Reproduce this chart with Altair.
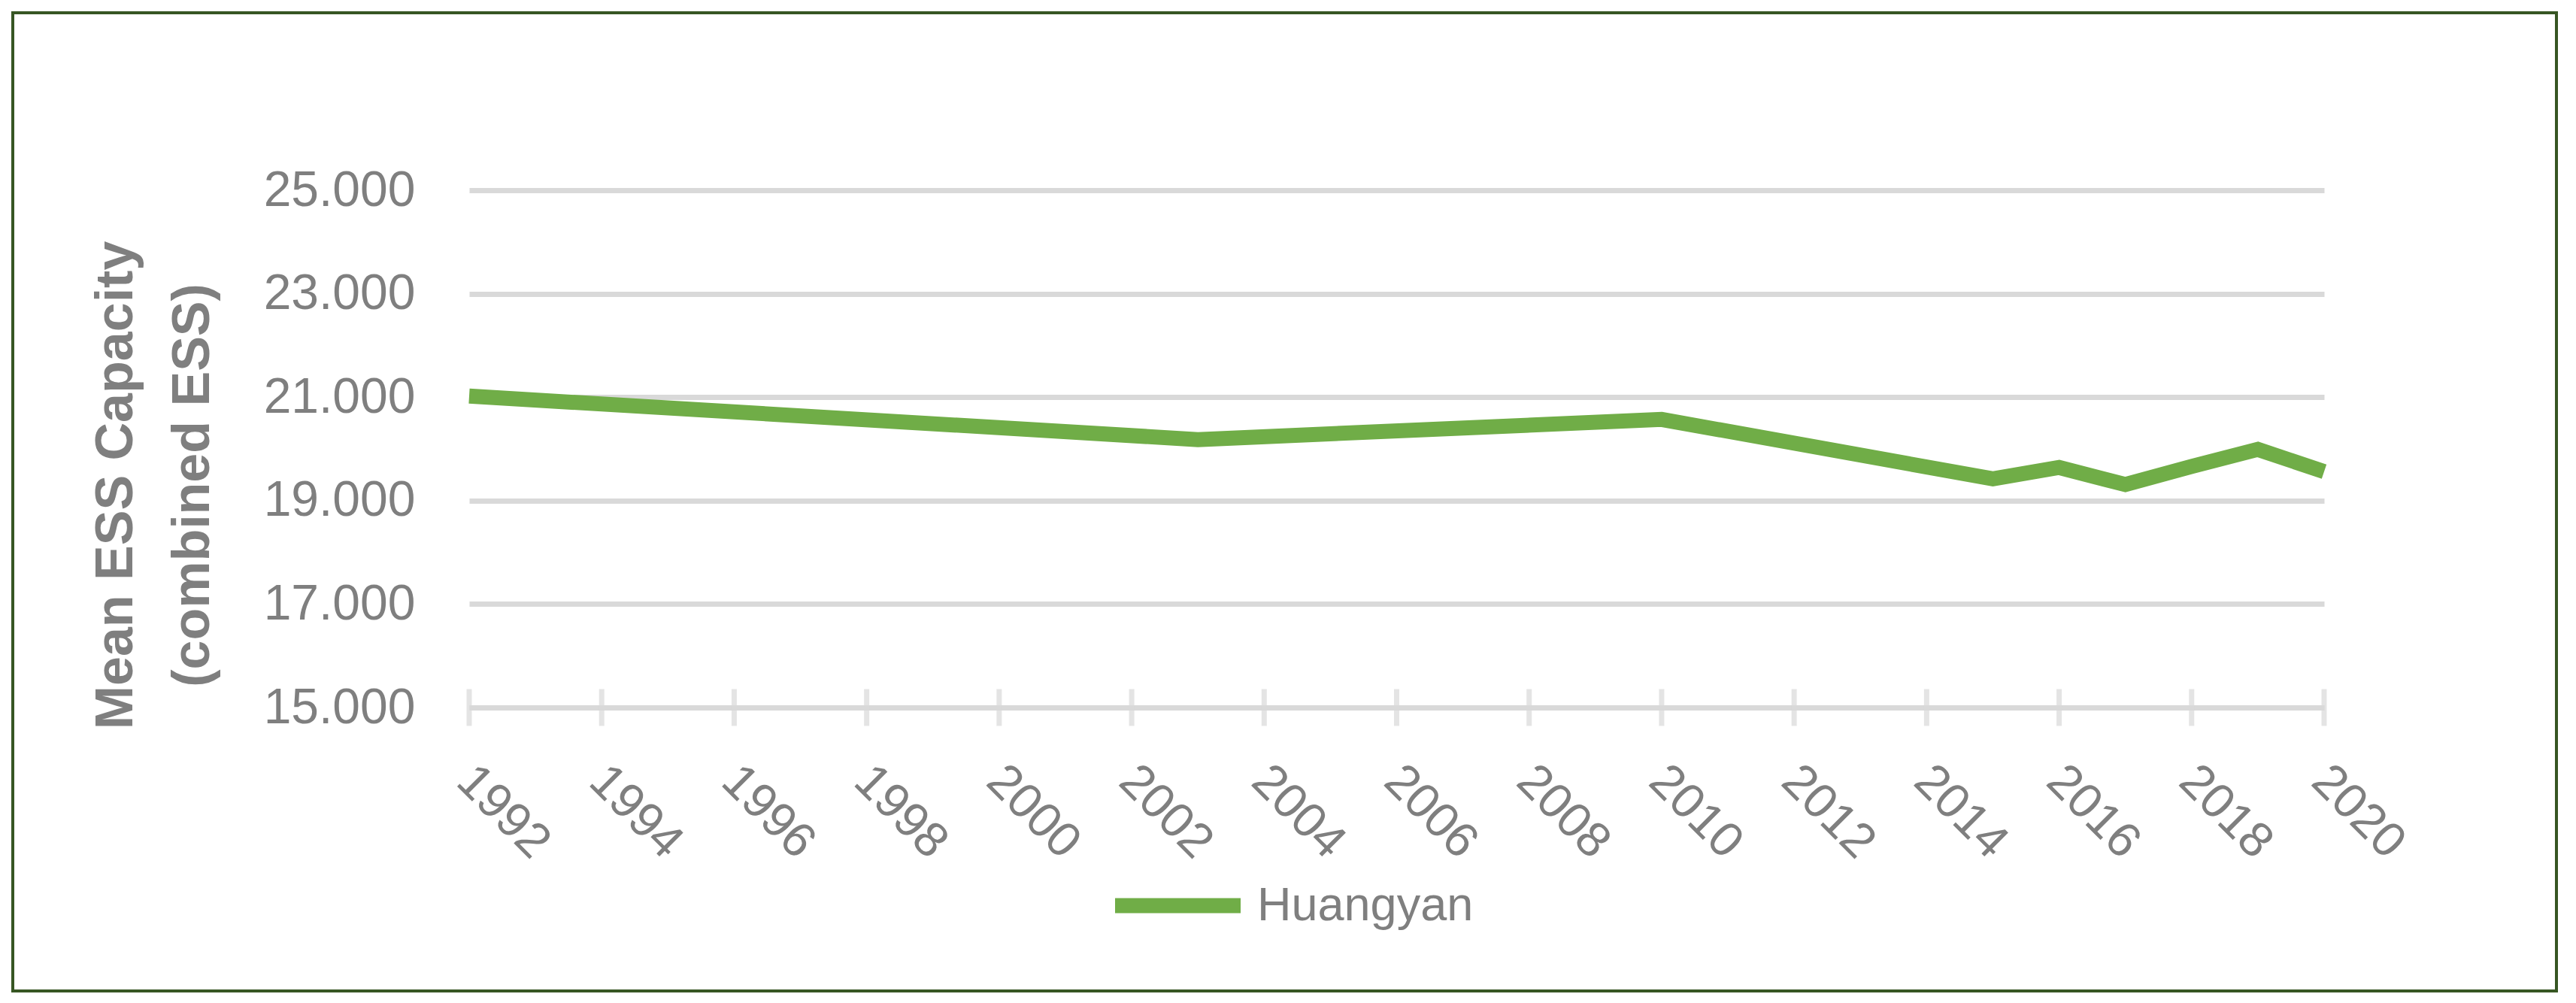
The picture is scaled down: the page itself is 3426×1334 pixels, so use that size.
import altair as alt
import pandas as pd

# ---- data ----
years = [1992, 2003, 2010, 2015, 2016, 2017, 2018, 2019, 2020]
values = [21.02, 20.18, 20.57, 19.42, 19.64, 19.31, 19.66, 19.99, 19.56]
series_name = "Huangyan"
tick_years = [1992, 1994, 1996, 1998, 2000, 2002, 2004, 2006, 2008,
              2010, 2012, 2014, 2016, 2018, 2020]
y_ticks = [15, 17, 19, 21, 23, 25]
y_title = ["Mean ESS Capacity", "(combined ESS)"]

GRAY = "#7F7F7F"
GRID = "#D9D9D9"
GREEN = "#70AD47"
FRAME = "#375623"
FONT = "Liberation Sans"

line_df = pd.DataFrame({"year": years, "value": values,
                        "series": [series_name] * len(years)})
tick_df = pd.DataFrame({"year": tick_years, "value": [y_ticks[0]] * len(tick_years)})

xscale = alt.Scale(domain=[tick_years[0], tick_years[-1]], nice=False, zero=False)
yscale = alt.Scale(domain=[y_ticks[0], y_ticks[-1]], nice=False, zero=False)

x_enc = alt.X(
    "year:Q", scale=xscale,
    axis=alt.Axis(values=tick_years, format="d", labelAngle=45, labelAlign="left",
                  labelBaseline="top", labelPadding=65, labelOffset=16,
                  labelFont=FONT, labelFontSize=65, labelColor=GRAY,
                  labelOverlap=False, labelFlush=False, labelLimit=600,
                  ticks=False, domain=True, domainColor=GRID, domainWidth=7,
                  grid=False, title=None),
)
y_enc = alt.Y(
    "value:Q", scale=yscale,
    axis=alt.Axis(values=y_ticks, format=".3f", labelFont=FONT,
                  labelFontSize=66, labelColor=GRAY, labelPadding=72, labelLimit=600,
                  ticks=False, domain=False, grid=True, gridColor=GRID, gridWidth=7,
                  title=y_title, titleFont=FONT, titleFontSize=70,
                  titleFontWeight="bold", titleColor=GRAY, titleAngle=270,
                  titleX=-449, titleY=392, titleAlign="center",
                  titleBaseline="alphabetic", titleLineHeight=102),
)

frame = alt.Chart(pd.DataFrame({"k": [0]})).mark_rect(
    fill="transparent", stroke=FRAME, strokeWidth=4
).encode(x=alt.value(-607), x2=alt.value(2776), y=alt.value(-236), y2=alt.value(1065))

ticks = alt.Chart(tick_df).mark_tick(
    orient="vertical", size=49, thickness=7, color=GRID
).encode(x=x_enc, y=y_enc)

line = alt.Chart(line_df).mark_line(strokeWidth=20).encode(
    x=x_enc, y=y_enc,
    color=alt.Color(
        "series:N",
        scale=alt.Scale(domain=[series_name], range=[GREEN]),
        legend=alt.Legend(orient="none", legendX=849, legendY=858, title=None,
                          symbolType="stroke", symbolSize=27889, symbolStrokeWidth=20,
                          labelFont=FONT, labelFontSize=63, labelLimit=800,
                          labelColor=GRAY, labelOffset=12, padding=0, rowPadding=0),
    ),
)

chart = alt.layer(frame, ticks, line).properties(
    width=2467, height=688,
    padding={"left": 616, "top": 245, "right": 320, "bottom": 380},
    autosize=alt.AutoSizeParams(type="none"),
    background="white",
).configure_view(strokeWidth=0)

chart.save("out.html", embed_options={"renderer": "svg", "actions": False})
